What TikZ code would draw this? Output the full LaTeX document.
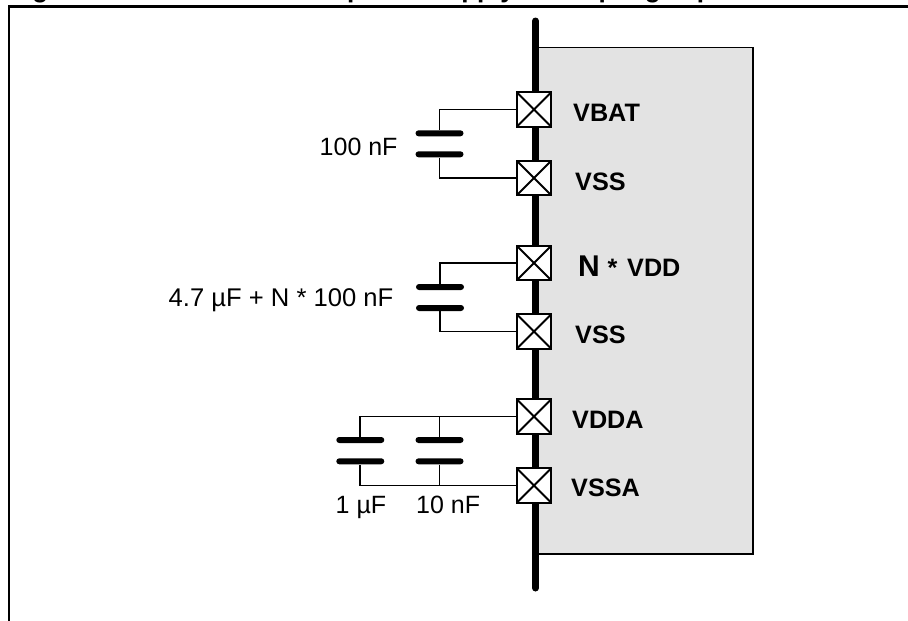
\documentclass[tikz,border=0pt]{standalone}
\usepackage{fontspec}
\setmainfont{Liberation Sans}
\tikzset{
  pad/.style={rectangle,draw,line width=2.2pt,fill=white,inner sep=0pt,minimum size=34.5pt,
    path picture={\draw[line width=1.8pt] (path picture bounding box.north west) -- (path picture bounding box.south east)
      (path picture bounding box.north east) -- (path picture bounding box.south west);}},
  plate/.style={rectangle,fill=black,rounded corners=3pt,inner sep=0pt,minimum width=48pt,minimum height=6pt},
  wire/.style={line width=1.9pt},
  val/.style={font=\fontsize{25}{28}\selectfont,inner sep=0pt,anchor=base west},
  pin/.style={font=\fontsize{25.2}{28}\selectfont\bfseries,inner sep=0pt,anchor=base west},
  head/.style={font=\fontsize{26}{30}\selectfont\bfseries,inner sep=0pt,anchor=base west}
}
\begin{document}
\begin{tikzpicture}[x=1pt,y=-1pt]
\useasboundingbox (0,0) rectangle (908,621);
% heading, only its lowest edge is on the page
\begin{scope}
\clip (0,0) rectangle (908,4);
\node[head] (figword) at (9,-2.5) {Figure};
\node[head] (headword) at (347,-2.5) {power supply decoupling capacitors};
\end{scope}
% frame
\draw[line width=2.5pt] (9,621) -- (9,6.5) -- (908,6.5);
% chip and bus
\draw[fill=black!11,line width=1.5pt] (535.5,47.5) rectangle (753,554);
\draw[line width=7pt,line cap=round] (535.5,21) -- (535.5,588);
% pads
\node[pad] (vbat) at (534,109.5) {};
\node[pad] (vssone) at (534,178) {};
\node[pad] (vdd) at (534,263) {};
\node[pad] (vsstwo) at (534,331.5) {};
\node[pad] (vdda) at (534,416.5) {};
\node[pad] (vssa) at (534,485.5) {};
% capacitor plates
\node[plate] (capAt) at (439.5,133.3) {};
\node[plate] (capAb) at (439.5,154.3) {};
\node[plate] (capBt) at (440,287) {};
\node[plate] (capBb) at (440,308) {};
\node[plate] (capCt) at (360.3,440) {};
\node[plate] (capCb) at (360.3,461.3) {};
\node[plate] (capDt) at (439.5,440) {};
\node[plate] (capDb) at (439.5,461.3) {};
% wires
\draw[wire] (vbat.west) -| (capAt.north);
\draw[wire] (vssone.west) -| (capAb.south);
\draw[wire] (vdd.west) -| (capBt.north);
\draw[wire] (vsstwo.west) -| (capBb.south);
\draw[wire] (vdda.west) -| (capCt.north);
\draw[wire] (vssa.west) -| (capCb.south);
\draw[wire] (capDt.north) -- (capDt.north |- vdda.west);
\draw[wire] (capDb.south) -- (capDb.south |- vssa.west);
% values
\node[val] (valA) at (319.5,155) {100 nF};
\node[val,font=\fontsize{25.6}{28}\selectfont] (valB) at (168.5,306.5) {4.7 µF + N * 100 nF};
\node[val] (valC) at (335.5,513) {1 µF};
\node[val] (valD) at (416,513) {10 nF};
% pin names
\node[pin] (nameA) at (573,121) {VBAT};
\node[pin] (nameB) at (575,190) {VSS};
\node[pin,font=\fontsize{30}{32}\selectfont\bfseries] (nameN) at (578,276.7) {N};
\node[pin] (nameS) at (607.5,276.7) {*};
\node[pin] (nameC) at (627,276.7) {VDD};
\node[pin] (nameD) at (575,343.3) {VSS};
\node[pin] (nameE) at (572,428.3) {VDDA};
\node[pin] (nameF) at (571,496) {VSSA};
\end{tikzpicture}
\end{document}
